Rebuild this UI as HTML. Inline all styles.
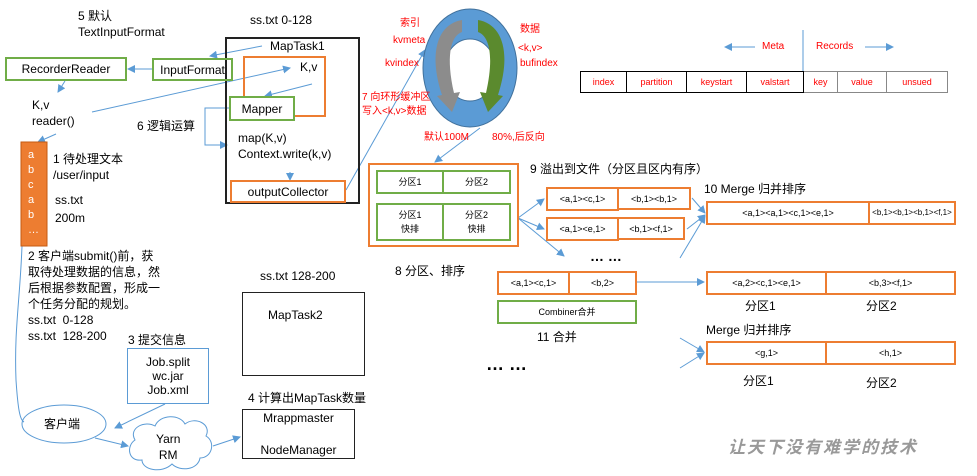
<!DOCTYPE html>
<html><head><meta charset="utf-8"><style>
body{margin:0;width:977px;height:476px;background:#fff;position:relative;overflow:hidden;font-family:"Liberation Sans","Noto Sans CJK SC",sans-serif;color:#000}
.t{position:absolute;font-size:12px;white-space:nowrap;line-height:16px}
.b{position:absolute;box-sizing:border-box;display:flex;align-items:center;justify-content:center;font-size:12px;text-align:center;line-height:14px}
.g{border:2px solid #70ad47}
.o{border:2px solid #ed7d31}
.k{border:2px solid #222}
.r{color:#f00;font-size:10px;position:absolute;white-space:nowrap}
.s{font-size:9px;white-space:nowrap}
svg{position:absolute;left:0;top:0}
</style></head><body>
<svg width="977" height="476">
<defs><marker id="a" markerWidth="8" markerHeight="8" refX="7" refY="4" orient="auto" markerUnits="userSpaceOnUse"><path d="M0,0L8,4L0,8z" fill="#5b9bd5"/></marker></defs>
<g stroke="#5b9bd5" stroke-width="1" fill="none">
<line x1="262" y1="46" x2="210" y2="56" marker-end="url(#a)"/>
<line x1="152" y1="69" x2="128" y2="69" marker-end="url(#a)"/>
<line x1="65" y1="81" x2="58" y2="92" marker-end="url(#a)"/>
<line x1="92" y1="112" x2="290" y2="68" marker-end="url(#a)"/>
<line x1="56" y1="134" x2="38" y2="142" marker-end="url(#a)"/>
<line x1="312" y1="84" x2="265" y2="96" marker-end="url(#a)"/>
<polyline points="229,108 205,108 205,145 227,145" marker-end="url(#a)"/>
<line x1="290" y1="172" x2="290" y2="180" marker-end="url(#a)"/>
<line x1="346" y1="190" x2="425" y2="50" marker-end="url(#a)"/>
<line x1="480" y1="128" x2="435" y2="162" marker-end="url(#a)"/>
<line x1="755" y1="47" x2="725" y2="47" marker-end="url(#a)"/>
<line x1="865" y1="47" x2="893" y2="47" marker-end="url(#a)"/>
<line x1="803" y1="30" x2="803" y2="71"/>
<line x1="518" y1="218" x2="544" y2="199" marker-end="url(#a)"/>
<line x1="518" y1="218" x2="544" y2="229" marker-end="url(#a)"/>
<line x1="518" y1="218" x2="564" y2="256" marker-end="url(#a)"/>
<line x1="692" y1="198" x2="705" y2="213" marker-end="url(#a)"/>
<line x1="687" y1="229" x2="705" y2="215" marker-end="url(#a)"/>
<line x1="680" y1="258" x2="705" y2="216" marker-end="url(#a)"/>
<line x1="636" y1="282" x2="704" y2="282" marker-end="url(#a)"/>
<line x1="680" y1="338" x2="704" y2="352" marker-end="url(#a)"/>
<line x1="680" y1="368" x2="704" y2="353" marker-end="url(#a)"/>
<path d="M22,246 C20,300 14,330 16,380 C18,410 20,420 24,422"/>
<line x1="165" y1="404" x2="115" y2="428" marker-end="url(#a)"/>
<line x1="95" y1="438" x2="128" y2="446" marker-end="url(#a)"/>
<line x1="213" y1="446" x2="240" y2="437" marker-end="url(#a)"/>
<ellipse cx="64" cy="424" rx="42" ry="19"/>
<path d="M135,440 C128,428 145,420 155,426 C160,414 180,414 185,424 C195,416 212,424 206,436 C216,442 212,458 200,458 C198,470 180,472 172,464 C162,474 142,470 142,460 C128,462 126,446 135,440z"/>
</g>
<ellipse cx="470" cy="68" rx="47" ry="59" fill="#5b9bd5" stroke="#41719c"/>
<ellipse cx="470" cy="70" rx="26" ry="31" fill="#fff" stroke="#41719c"/>
<path d="M462,20 C438,24 428,52 442,95 L437,96 L452,112 L460,92 L454,93 C446,58 450,36 462,32z" fill="#8c8c8c"/>
<path d="M478,20 C502,24 512,52 498,95 L503,96 L488,112 L480,92 L486,93 C494,58 490,36 478,32z" fill="#5b8a2e"/>
<rect x="21" y="142" width="26" height="104" fill="#ed7d31" stroke="#c55a11"/>
</svg>
<div class="t" style="left:78px;top:8px">5 默认<br>TextInputFormat</div>
<div class="t" style="left:250px;top:12px">ss.txt 0-128</div>
<div class="b k" style="left:225px;top:37px;width:135px;height:167px"></div>
<div class="t" style="left:270px;top:38px">MapTask1</div>
<div class="b g" style="left:5px;top:57px;width:122px;height:24px">RecorderReader</div>
<div class="b g" style="left:152px;top:58px;width:81px;height:23px">InputFormat</div>
<div class="b o" style="left:243px;top:56px;width:83px;height:61px"></div>
<div class="t" style="left:300px;top:59px">K,v</div>
<div class="b g" style="left:229px;top:96px;width:66px;height:25px;background:#fff">Mapper</div>
<div class="t" style="left:32px;top:97px">K,v<br>reader()</div>
<div class="t" style="left:137px;top:118px">6 逻辑运算</div>
<div class="t" style="left:238px;top:130px">map(K,v)<br>Context.write(k,v)</div>
<div class="b o" style="left:230px;top:180px;width:116px;height:23px">outputCollector</div>
<div class="t" style="left:28px;top:148px;color:#fff;font-size:11px;line-height:15px">a<br>b<br>c<br>a<br>b<br>…</div>
<div class="t" style="left:53px;top:151px">1 待处理文本<br>/user/input</div>
<div class="t" style="left:55px;top:191px;line-height:18px">ss.txt<br>200m</div>
<div class="r" style="left:400px;top:14px">索引</div>
<div class="r" style="left:393px;top:35px">kvmeta</div>
<div class="r" style="left:385px;top:58px">kvindex</div>
<div class="r" style="left:520px;top:20px">数据</div>
<div class="r" style="left:518px;top:43px">&lt;k,v&gt;</div>
<div class="r" style="left:520px;top:58px">bufindex</div>
<div class="r" style="left:362px;top:91px;line-height:14px">7 向环形缓冲区<br>写入&lt;k,v&gt;数据</div>
<div class="r" style="left:424px;top:128px">默认100M</div>
<div class="r" style="left:492px;top:128px">80%,后反向</div>
<div class="t" style="left:762px;top:39px;color:#f00;font-size:10px">Meta</div>
<div class="t" style="left:816px;top:39px;color:#f00;font-size:10px">Records</div>
<div style="position:absolute;left:580px;top:71px;display:flex;height:22px;color:#f00;font-size:9px">
<div class="b" style="position:static;width:47px;border:1px solid #000;font-size:9px">index</div>
<div class="b" style="position:static;width:60px;border:1px solid #000;border-left:0;font-size:9px">partition</div>
<div class="b" style="position:static;width:60px;border:1px solid #000;border-left:0;font-size:9px">keystart</div>
<div class="b" style="position:static;width:57px;border:1px solid #000;border-left:0;font-size:9px">valstart</div>
<div class="b" style="position:static;width:34px;border:1px solid #888;border-left:0;font-size:9px">key</div>
<div class="b" style="position:static;width:49px;border:1px solid #888;border-left:0;font-size:9px">value</div>
<div class="b" style="position:static;width:61px;border:1px solid #888;border-left:0;font-size:9px">unsued</div>
</div>
<div class="b o" style="left:368px;top:163px;width:151px;height:84px"></div>
<div class="b g s" style="left:376px;top:170px;width:68px;height:24px">分区1</div>
<div class="b g s" style="left:442px;top:170px;width:69px;height:24px">分区2</div>
<div class="b g s" style="left:376px;top:203px;width:68px;height:38px">分区1<br>快排</div>
<div class="b g s" style="left:442px;top:203px;width:69px;height:38px">分区2<br>快排</div>
<div class="t" style="left:530px;top:161px">9 溢出到文件（分区且区内有序）</div>
<div class="b o s" style="left:546px;top:187px;width:73px;height:24px">&lt;a,1&gt;&lt;c,1&gt;</div>
<div class="b o s" style="left:617px;top:187px;width:74px;height:23px">&lt;b,1&gt;&lt;b,1&gt;</div>
<div class="b o s" style="left:546px;top:217px;width:73px;height:24px">&lt;a,1&gt;&lt;e,1&gt;</div>
<div class="b o s" style="left:617px;top:217px;width:68px;height:23px">&lt;b,1&gt;&lt;f,1&gt;</div>
<div class="t" style="left:590px;top:248px;font-weight:bold;font-size:14px">… …</div>
<div class="t" style="left:704px;top:181px">10 Merge 归并排序</div>
<div class="b o s" style="left:706px;top:201px;width:164px;height:24px">&lt;a,1&gt;&lt;a,1&gt;&lt;c,1&gt;&lt;e,1&gt;</div>
<div class="b o s" style="left:868px;top:201px;width:88px;height:24px;font-size:8px">&lt;b,1&gt;&lt;b,1&gt;&lt;b,1&gt;&lt;f,1&gt;</div>
<div class="t" style="left:395px;top:263px">8 分区、排序</div>
<div class="b o s" style="left:497px;top:271px;width:73px;height:24px">&lt;a,1&gt;&lt;c,1&gt;</div>
<div class="b o s" style="left:568px;top:271px;width:69px;height:24px">&lt;b,2&gt;</div>
<div class="b g s" style="left:497px;top:300px;width:140px;height:24px">Combiner合并</div>
<div class="t" style="left:537px;top:329px">11 合并</div>
<div class="b o s" style="left:706px;top:271px;width:121px;height:24px">&lt;a,2&gt;&lt;c,1&gt;&lt;e,1&gt;</div>
<div class="b o s" style="left:825px;top:271px;width:131px;height:24px">&lt;b,3&gt;&lt;f,1&gt;</div>
<div class="t" style="left:745px;top:298px">分区1</div>
<div class="t" style="left:866px;top:298px">分区2</div>
<div class="t" style="left:706px;top:322px">Merge 归并排序</div>
<div class="b o s" style="left:706px;top:341px;width:121px;height:24px">&lt;g,1&gt;</div>
<div class="b o s" style="left:825px;top:341px;width:131px;height:24px">&lt;h,1&gt;</div>
<div class="t" style="left:743px;top:373px">分区1</div>
<div class="t" style="left:866px;top:375px">分区2</div>
<div class="t" style="left:486px;top:356px;font-weight:bold;font-size:18px">…  …</div>
<div class="t" style="left:28px;top:248px">2 客户端submit()前，获<br>取待处理数据的信息，然<br>后根据参数配置，形成一<br>个任务分配的规划。<br>ss.txt&nbsp; 0-128<br>ss.txt&nbsp; 128-200</div>
<div class="t" style="left:260px;top:268px">ss.txt 128-200</div>
<div class="b k" style="left:242px;top:292px;width:123px;height:84px;border-width:1.5px"></div>
<div class="t" style="left:268px;top:307px">MapTask2</div>
<div class="t" style="left:128px;top:332px">3 提交信息</div>
<div class="b" style="left:127px;top:348px;width:82px;height:56px;border:1.5px solid #5b9bd5">Job.split<br>wc.jar<br>Job.xml</div>
<div class="t" style="left:248px;top:390px">4 计算出MapTask数量</div>
<div class="b k" style="left:242px;top:409px;width:113px;height:50px;border-width:1.5px;line-height:16px">Mrappmaster<br><br>NodeManager</div>
<div class="t" style="left:44px;top:416px">客户端</div>
<div class="t" style="left:156px;top:431px;text-align:center;line-height:16px">Yarn<br>RM</div>
<div class="t" style="left:728px;top:440px;color:#999;font-style:italic;font-weight:bold;font-size:17px;letter-spacing:2px">让天下没有难学的技术</div>
</body></html>
